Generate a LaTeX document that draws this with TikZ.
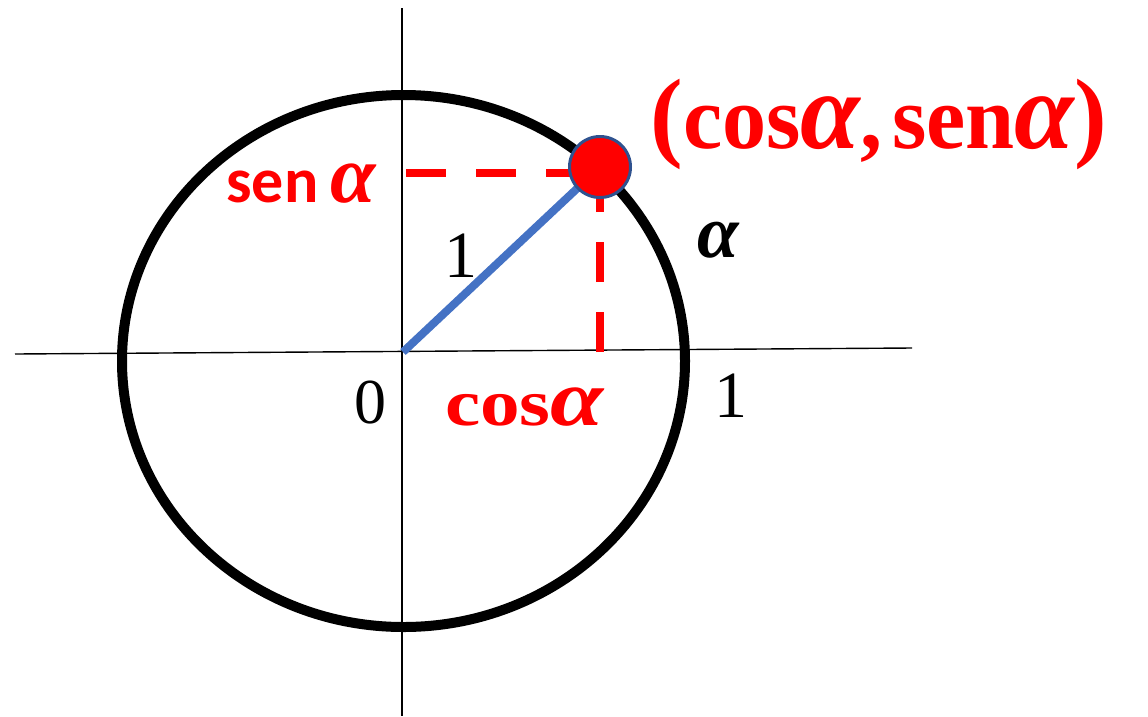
\documentclass[tikz,border=0pt]{standalone}
\usepackage{fontspec}
\setmainfont{Liberation Serif}
\newfontfamily\calib{Carlito}
\definecolor{myred}{HTML}{FF0000}
\definecolor{myblue}{HTML}{4472C4}
\definecolor{dotblue}{HTML}{2F528F}
\newcommand{\bigal}[1]{{\fontsize{#1}{#1}\selectfont\bfseries\itshape α}}
\begin{document}
\begin{tikzpicture}[x=1pt,y=-1pt,
  axisline/.style={line width=1.4pt,black},
  reddash/.style={myred,line width=8pt,dash pattern=on 40pt off 30pt},
  lbl/.style={inner sep=0pt,anchor=base}]
\useasboundingbox (0,0) rectangle (1148,716);
% axes
\coordinate (xl) at (15,354);
\coordinate (xr) at (912,348);
\coordinate (yt) at (402,8);
\coordinate (yb) at (402,716);
\draw[axisline] (xl) -- (xr);
\draw[axisline] (yt) -- (yb);
% unit circle
\draw[line width=10pt] (403.5,361) ellipse [x radius=281.5, y radius=266];
% points
\coordinate (O) at (403,352);
\coordinate (Ax) at (600,352);
\coordinate (Ay) at (406,173);
\coordinate (Pc) at (600,167);
\coordinate (Ph) at (600,173);
\draw[reddash] (Ay) -- (Ph);
\draw[reddash] (Ax) -- (Pc);
\draw[myblue,line width=8pt] (O) -- (Pc);
\node[circle,fill=myred,draw=dotblue,line width=3pt,minimum size=61pt,inner sep=0pt] (P) at (Pc) {};
% labels
\node[lbl,text=myred,xscale=0.98] (coord) at (879,148) {\fontsize{90}{100}\selectfont\bfseries {\fontsize{100}{100}\selectfont(}cos\bigal{110},\hspace{10pt}sen\bigal{110}{\fontsize{100}{100}\selectfont)}};
\node[lbl,text=myred] (sena) at (301,202) {\fontsize{64}{70}\selectfont\bfseries{\calib sen}\hspace{12pt}\bigal{82}};
\node[lbl,text=myred,xscale=1.2] (cosa) at (524.5,425) {\fontsize{66}{70}\selectfont\bfseries cos\bigal{80}};
\node[lbl] (alpha) at (718,257) {\bigal{75}};
\node[lbl] (zero) at (370,423) {\fontsize{64}{70}\selectfont 0};
\node[lbl] (one) at (461,277) {\fontsize{66}{70}\selectfont 1};
\node[lbl] (onex) at (731,417) {\fontsize{66}{70}\selectfont 1};
\end{tikzpicture}
\end{document}
